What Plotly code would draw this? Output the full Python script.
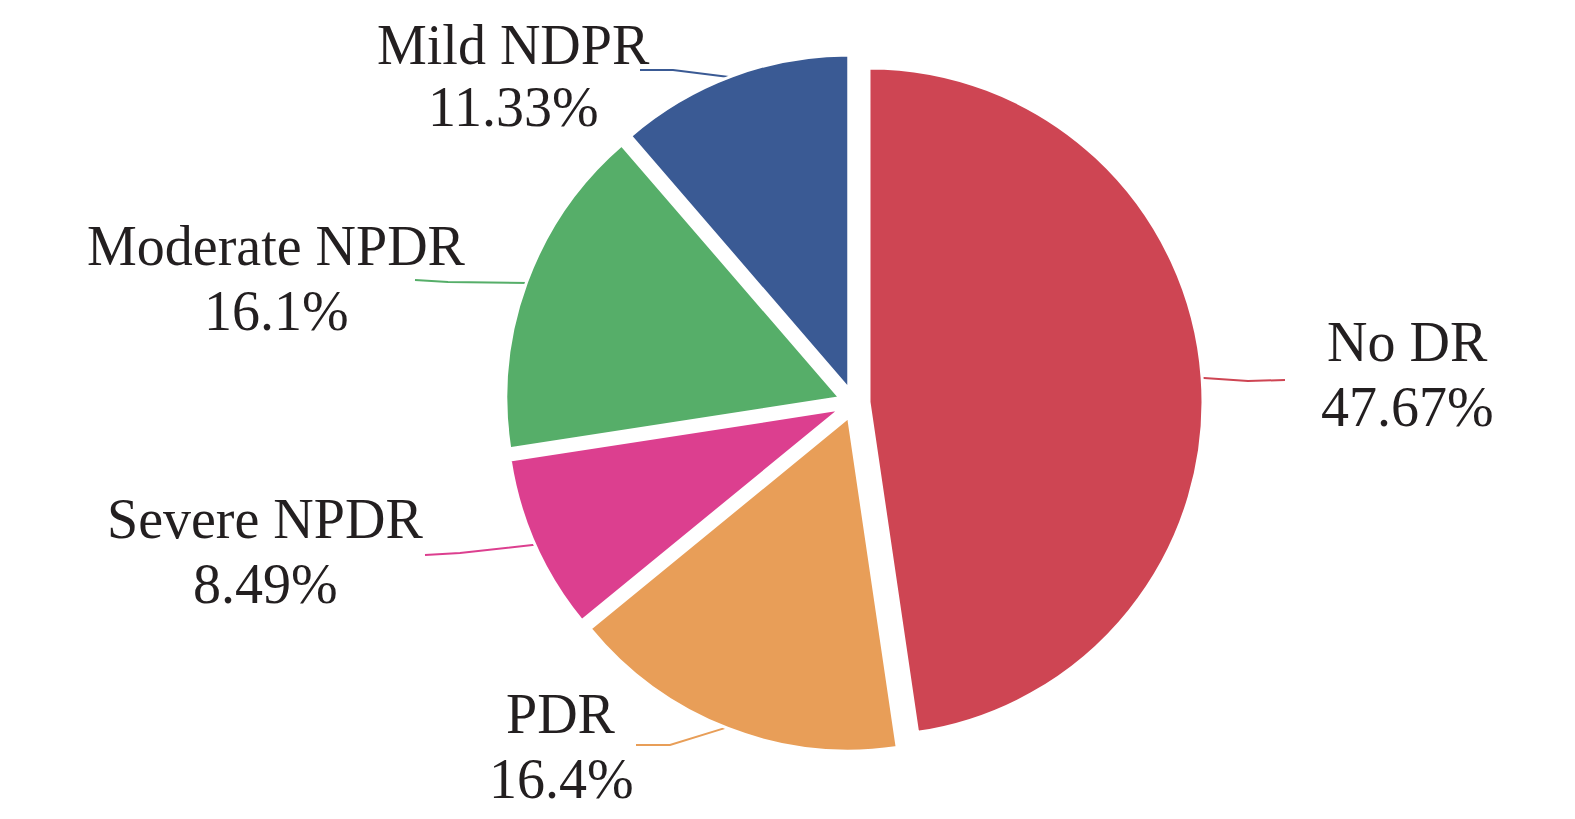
import numpy as np
import plotly.graph_objects as go

# slice data, clockwise from 12 o'clock
labels = ["No DR", "PDR", "Severe NPDR", "Moderate NPDR", "Mild NDPR"]
values = [47.67, 16.4, 8.49, 16.1, 11.33]
pct_text = ["47.67%", "16.4%", "8.49%", "16.1%", "11.33%"]
colors = ["#CE4553", "#E89E58", "#DC3F8F", "#56AE69", "#3A5A94"]

W, H = 1575, 819
CX, CY = 846, 395      # pie centre, px from top-left
R = 334                # slice radius, px
PULL = 0.045
FONT = dict(family="Liberation Serif, Times New Roman, serif", size=56, color="#231F20")

# label centre (name line y, percent line y) and leader (elbow, end) per slice, px
label_pos = {
    "No DR": (1399, 334, 399),
    "PDR": (553, 706, 771),
    "Severe NPDR": (257, 511, 576),
    "Moderate NPDR": (268, 238, 303),
    "Mild NDPR": (505, 37, 99),
}
leader_end = {
    "No DR": ((1240, 373), (1277, 372)),
    "PDR": ((662, 737), (628, 737)),
    "Severe NPDR": ((452, 545), (417, 547)),
    "Moderate NPDR": ((440, 274), (407, 272)),
    "Mild NDPR": ((665, 62), (632, 62)),
}

half = R * (1 + PULL)
fig = go.Figure()
fig.add_trace(go.Pie(
    labels=labels, values=values, sort=False, direction="clockwise",
    rotation=0, pull=[PULL] * len(values), textinfo="none", hoverinfo="label+percent",
    marker=dict(colors=colors, line=dict(color="white", width=3)),
    domain=dict(x=[(CX - half) / W, (CX + half) / W],
                y=[(H - CY - half) / H, (H - CY + half) / H]),
    showlegend=False,
))

# leader lines from each slice's mid-angle to its label
vals = np.array(values)
mid = (np.cumsum(vals) - vals / 2) / vals.sum() * 2 * np.pi
for lab, th, col in zip(labels, mid, colors):
    sx = CX + R * (1 + PULL) * np.sin(th) * 0.995
    sy = CY - R * (1 + PULL) * np.cos(th) * 0.995
    (ex, ey), (tx, ty) = leader_end[lab]
    fig.add_trace(go.Scatter(
        x=[sx, ex, tx], y=[sy, ey, ty], mode="lines",
        line=dict(color=col, width=2), hoverinfo="skip", showlegend=False,
    ))

for lab, txt in zip(labels, pct_text):
    x, y_name, y_pct = label_pos[lab]
    for line, y in ((lab, y_name), (txt, y_pct)):
        fig.add_annotation(
            x=x, y=y, xref="x", yref="y", text=line, showarrow=False,
            font=FONT, xanchor="center", yanchor="middle",
        )

fig.update_layout(
    width=W, height=H,
    margin=dict(l=0, r=0, t=0, b=0),
    paper_bgcolor="white", plot_bgcolor="rgba(0,0,0,0)",
    xaxis=dict(range=[0, W], visible=False, fixedrange=True),
    yaxis=dict(range=[H, 0], visible=False, fixedrange=True),
)
fig.write_html("out.html", config={"displayModeBar": False})
